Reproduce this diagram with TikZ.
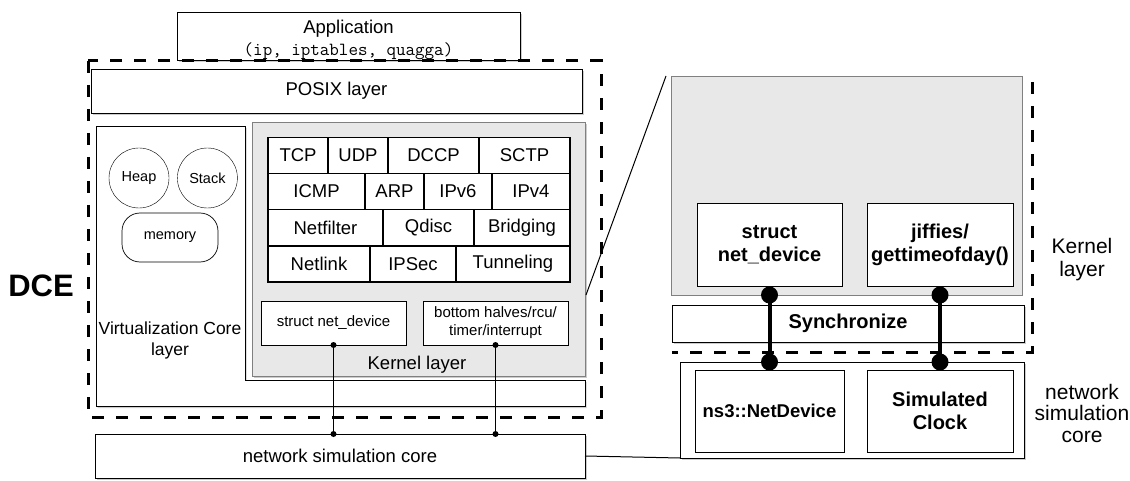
\documentclass[tikz,border=0pt]{standalone}
\usepackage{fontspec}
\setmainfont{Liberation Sans}
\usetikzlibrary{shadows,positioning}

\definecolor{kgray}{gray}{0.91}

\begin{document}
\begin{tikzpicture}[x=1pt,y=-1pt,
    font=\fontsize{18.5}{22}\selectfont,
    box/.style={draw, fill=white, line width=0.7pt, inner sep=0pt, outer sep=0pt, align=center, anchor=north west},
    shade/.style={drop shadow={opacity=0.4, shadow xshift=1.5pt, shadow yshift=-2pt}},
    wh/.style 2 args={minimum width=#1, minimum height=#2},
    cell/.style={draw, fill=white, line width=1.1pt, inner sep=0pt, minimum height=36pt},
    small/.style={font=\fontsize{14.5}{18}\selectfont},
    bold/.style={font=\fontsize{20}{23}\selectfont\bfseries},
    dot/.style={circle, fill, inner sep=0pt, minimum size=#1},
    dashline/.style={line width=3pt, dash pattern=on 12pt off 12pt},
    thinlink/.style={line width=0.7pt},
    thicklink/.style={line width=4pt}]
    \useasboundingbox (0,0) rectangle (1130,481);

    % left part: DCE
    \node[box, shade, wh={343}{44}] (app) at (177,12)
        {\rule{0pt}{22pt}Application\\{\ttfamily (ip, iptables, quagga)}};
    \node[box, shade, wh={491}{44}] (posix) at (91,69) {POSIX layer};
    \filldraw[fill=white, line width=0.7pt, shade]
        (96,126) -- (245,126) -- (245,380) -- (585,380) -- (585,406) -- (96,406) -- cycle;
    \node[align=center, font=\fontsize{17.5}{21}\selectfont] (virt) at (170,340)
        {Virtualization Core\\layer};
    \node[box, shade, fill=kgray, draw=gray, wh={333}{254}] (kern) at (252,122) {};
    \node (kernlabel) at (417,365) {Kernel layer};

    \node[circle, draw, small, minimum size=60pt, inner sep=0pt] (heap) at (139,178) {Heap};
    \node[circle, draw, small, minimum size=60pt, inner sep=0pt, right=8pt of heap] (stack) {Stack};
    \node[box, small, rounded corners=18pt, wh={96}{49}] (memory) at (122,213) {memory};

    % protocol table
    \foreach \xa/\xb/\name in {268/328/TCP, 328/388/UDP, 388/479/DCCP, 479/570/SCTP}
        \node[cell, minimum width=\xb-\xa] (\name) at ({(\xa+\xb)/2},155.5) {\name};
    \foreach \xa/\xb/\name in {268/365/ICMP, 365/424/ARP, 424/492/IPv6, 492/570/IPv4}
        \node[cell, minimum width=\xb-\xa] (\name) at ({(\xa+\xb)/2},191.5) {\name};
    \foreach \xa/\xb/\name in {268/383/Netfilter, 383/474/Qdisc, 474/570/Bridging}
        \node[cell, minimum width=\xb-\xa] (\name) at ({(\xa+\xb)/2},227.5) {\name};
    \foreach \xa/\xb/\name in {268/370/Netlink, 370/456/IPSec, 456/570/Tunneling}
        \node[cell, minimum width=\xb-\xa] (\name) at ({(\xa+\xb)/2},264) {\name};

    \node[box, font=\fontsize{15}{18}\selectfont, wh={145}{44}] (snd) at (261,301) {struct net\_device};
    \node[box, font=\fontsize{15}{18}\selectfont, wh={145}{44}, right=17pt of snd.north east, anchor=north west] (bh)
        {bottom halves/rcu/\\timer/interrupt};

    \node[box, shade, wh={490}{44}] (nsc) at (95,434) {network simulation core};
    \node[font=\fontsize{31}{34}\selectfont\bfseries] (dce) at (41,286) {DCE};

    \draw[dashline] (88,61) rectangle (601,417);

    \draw[thinlink] (snd.south) node[dot=6pt]{} -- (snd.south |- nsc.north) node[dot=6pt]{};
    \draw[thinlink] (bh.south) node[dot=6pt]{} -- (bh.south |- nsc.north) node[dot=6pt]{};

    % right part: zoom
    \node[box, fill=kgray, draw=gray, wh={351}{219}] (rk) at (671,76) {};
    \node[box, bold, wh={145}{83}] (rsnd) at (697,203) {struct\\net\_device};
    \node[box, bold, wh={146}{83}, right=25pt of rsnd.north east, anchor=north west] (rjif)
        {jiffies/\\gettimeofday()};
    \node[box, bold, shade, wh={352}{37}] (sync) at (672,305) {Synchronize};
    \node[box, shade, wh={344}{96}] (rnsc) at (680,362) {};
    \node[box, font=\fontsize{18.5}{23}\selectfont\bfseries, wh={149}{82}] (rns3) at (695,370) {ns3::NetDevice};
    \node[box, bold, wh={146}{82}, right=23pt of rns3.north east, anchor=north west] (rclk)
        {Simulated\\Clock};

    \draw[dashline] (1032,82) -- (1032,352) -- (672,352);

    \draw[thicklink] (rsnd.south |- rk.south) node[dot=17pt]{} -- (rns3.north |- rnsc.north) node[dot=17pt]{};
    \draw[thicklink] (rjif.south |- rk.south) node[dot=17pt]{} -- (rclk.north |- rnsc.north) node[dot=17pt]{};

    \node[align=center, font=\fontsize{21}{23}\selectfont] (rklabel) at (1082,260) {Kernel\\layer};
    \node[align=center, font=\fontsize{21}{21.5}\selectfont] (rnsclabel) at (1082,413)
        {network\\simulation\\core};

    % zoom lines
    \coordinate (zfrom) at (586,295);
    \draw[line width=1pt] (zfrom) -- ([xshift=-5pt]rk.north west);
    \draw[line width=1pt] (nsc.east) -- (rnsc.south west);
\end{tikzpicture}
\end{document}
